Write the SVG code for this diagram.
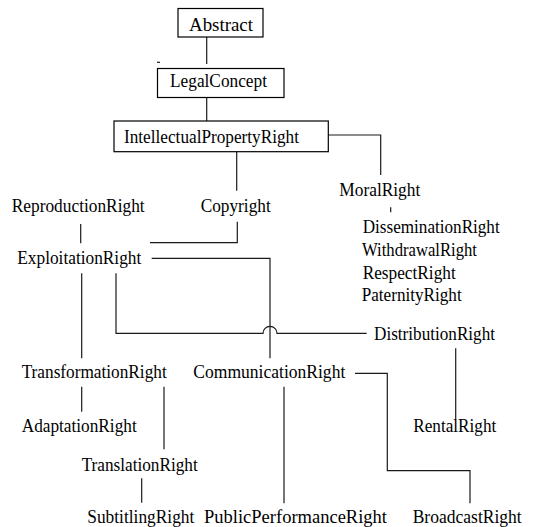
<svg xmlns="http://www.w3.org/2000/svg" width="533" height="527" viewBox="0 0 533 527">
  <style>
    .box { fill: #fff; stroke: #000; stroke-width: 1.2; }
    .lbl { font-family: "Liberation Serif", "Times New Roman", serif; font-size: 18.5px; fill: #000; }
    .edge { fill: none; stroke: #1a1a1a; stroke-width: 1.2; }
  </style>
  <rect width="533" height="527" fill="#fff"/>

  <!-- connectors -->
  <g id="connectors" class="edge">
    <path d="M206.7 37 V64"/>
    <path d="M157 62.3 H160"/>
    <path d="M206.7 97.3 V121"/>
    <path d="M328.3 135 H380.7 V175"/>
    <path d="M236.7 151.7 V190.7"/>
    <path d="M390.7 207.3 V212.3"/>
    <path d="M80.7 224 V243.3"/>
    <path d="M237.3 221.7 V242.7 H150"/>
    <path d="M151.7 258.3 H270 V358.3"/>
    <path d="M116 273.3 V333.3 H263 A7 7 0 0 1 277 333.3 H366.7"/>
    <path d="M81.7 273.3 V358.3"/>
    <path d="M455.7 348.3 V419.3"/>
    <path d="M355 373.3 H387.3 V470.7 H470 V503.3"/>
    <path d="M81.7 386.7 V411.7"/>
    <path d="M164 386.7 V449.3"/>
    <path d="M284 386.7 V503.3"/>
    <path d="M141.7 478.3 V502.7"/>
  </g>

  <!-- boxed concepts -->
  <g id="abstract">
    <rect class="box" x="178" y="8.5" width="85" height="28.5"/>
    <text class="lbl" x="189" y="31" textLength="64" lengthAdjust="spacingAndGlyphs">Abstract</text>
  </g>
  <g id="legal-concept">
    <rect class="box" x="157.5" y="68.5" width="126.5" height="29"/>
    <text class="lbl" x="170" y="87.3" textLength="97" lengthAdjust="spacingAndGlyphs">LegalConcept</text>
  </g>
  <g id="intellectual-property-right">
    <rect class="box" x="114" y="121" width="214.3" height="30.7"/>
    <text class="lbl" x="124" y="142.7" textLength="175" lengthAdjust="spacingAndGlyphs">IntellectualPropertyRight</text>
  </g>

  <!-- plain-text concepts -->
  <g id="moral-right"><text class="lbl" x="339.3" y="196" textLength="81" lengthAdjust="spacingAndGlyphs">MoralRight</text></g>
  <g id="reproduction-right"><text class="lbl" x="11.7" y="211.7" textLength="133" lengthAdjust="spacingAndGlyphs">ReproductionRight</text></g>
  <g id="copyright"><text class="lbl" x="200.7" y="211.7" textLength="70" lengthAdjust="spacingAndGlyphs">Copyright</text></g>
  <g id="dissemination-right"><text class="lbl" x="362.7" y="233.3" textLength="137" lengthAdjust="spacingAndGlyphs">DisseminationRight</text></g>
  <g id="withdrawal-right"><text class="lbl" x="362" y="256.3" textLength="115" lengthAdjust="spacingAndGlyphs">WithdrawalRight</text></g>
  <g id="exploitation-right"><text class="lbl" x="17.3" y="264" textLength="124" lengthAdjust="spacingAndGlyphs">ExploitationRight</text></g>
  <g id="respect-right"><text class="lbl" x="362.7" y="279.3" textLength="93" lengthAdjust="spacingAndGlyphs">RespectRight</text></g>
  <g id="paternity-right"><text class="lbl" x="361.7" y="301" textLength="100" lengthAdjust="spacingAndGlyphs">PaternityRight</text></g>
  <g id="distribution-right"><text class="lbl" x="374" y="340" textLength="121" lengthAdjust="spacingAndGlyphs">DistributionRight</text></g>
  <g id="transformation-right"><text class="lbl" x="21.7" y="378.3" textLength="145" lengthAdjust="spacingAndGlyphs">TransformationRight</text></g>
  <g id="communication-right"><text class="lbl" x="193.3" y="378.3" textLength="152" lengthAdjust="spacingAndGlyphs">CommunicationRight</text></g>
  <g id="adaptation-right"><text class="lbl" x="21.7" y="431.7" textLength="115" lengthAdjust="spacingAndGlyphs">AdaptationRight</text></g>
  <g id="rental-right"><text class="lbl" x="413.3" y="431.7" textLength="83" lengthAdjust="spacingAndGlyphs">RentalRight</text></g>
  <g id="translation-right"><text class="lbl" x="81.7" y="470.7" textLength="116" lengthAdjust="spacingAndGlyphs">TranslationRight</text></g>
  <g id="subtitling-right"><text class="lbl" x="87.3" y="523.3" textLength="107" lengthAdjust="spacingAndGlyphs">SubtitlingRight</text></g>
  <g id="public-performance-right"><text class="lbl" x="204" y="523.3" textLength="183" lengthAdjust="spacingAndGlyphs">PublicPerformanceRight</text></g>
  <g id="broadcast-right"><text class="lbl" x="412.7" y="523.3" textLength="109" lengthAdjust="spacingAndGlyphs">BroadcastRight</text></g>
</svg>
